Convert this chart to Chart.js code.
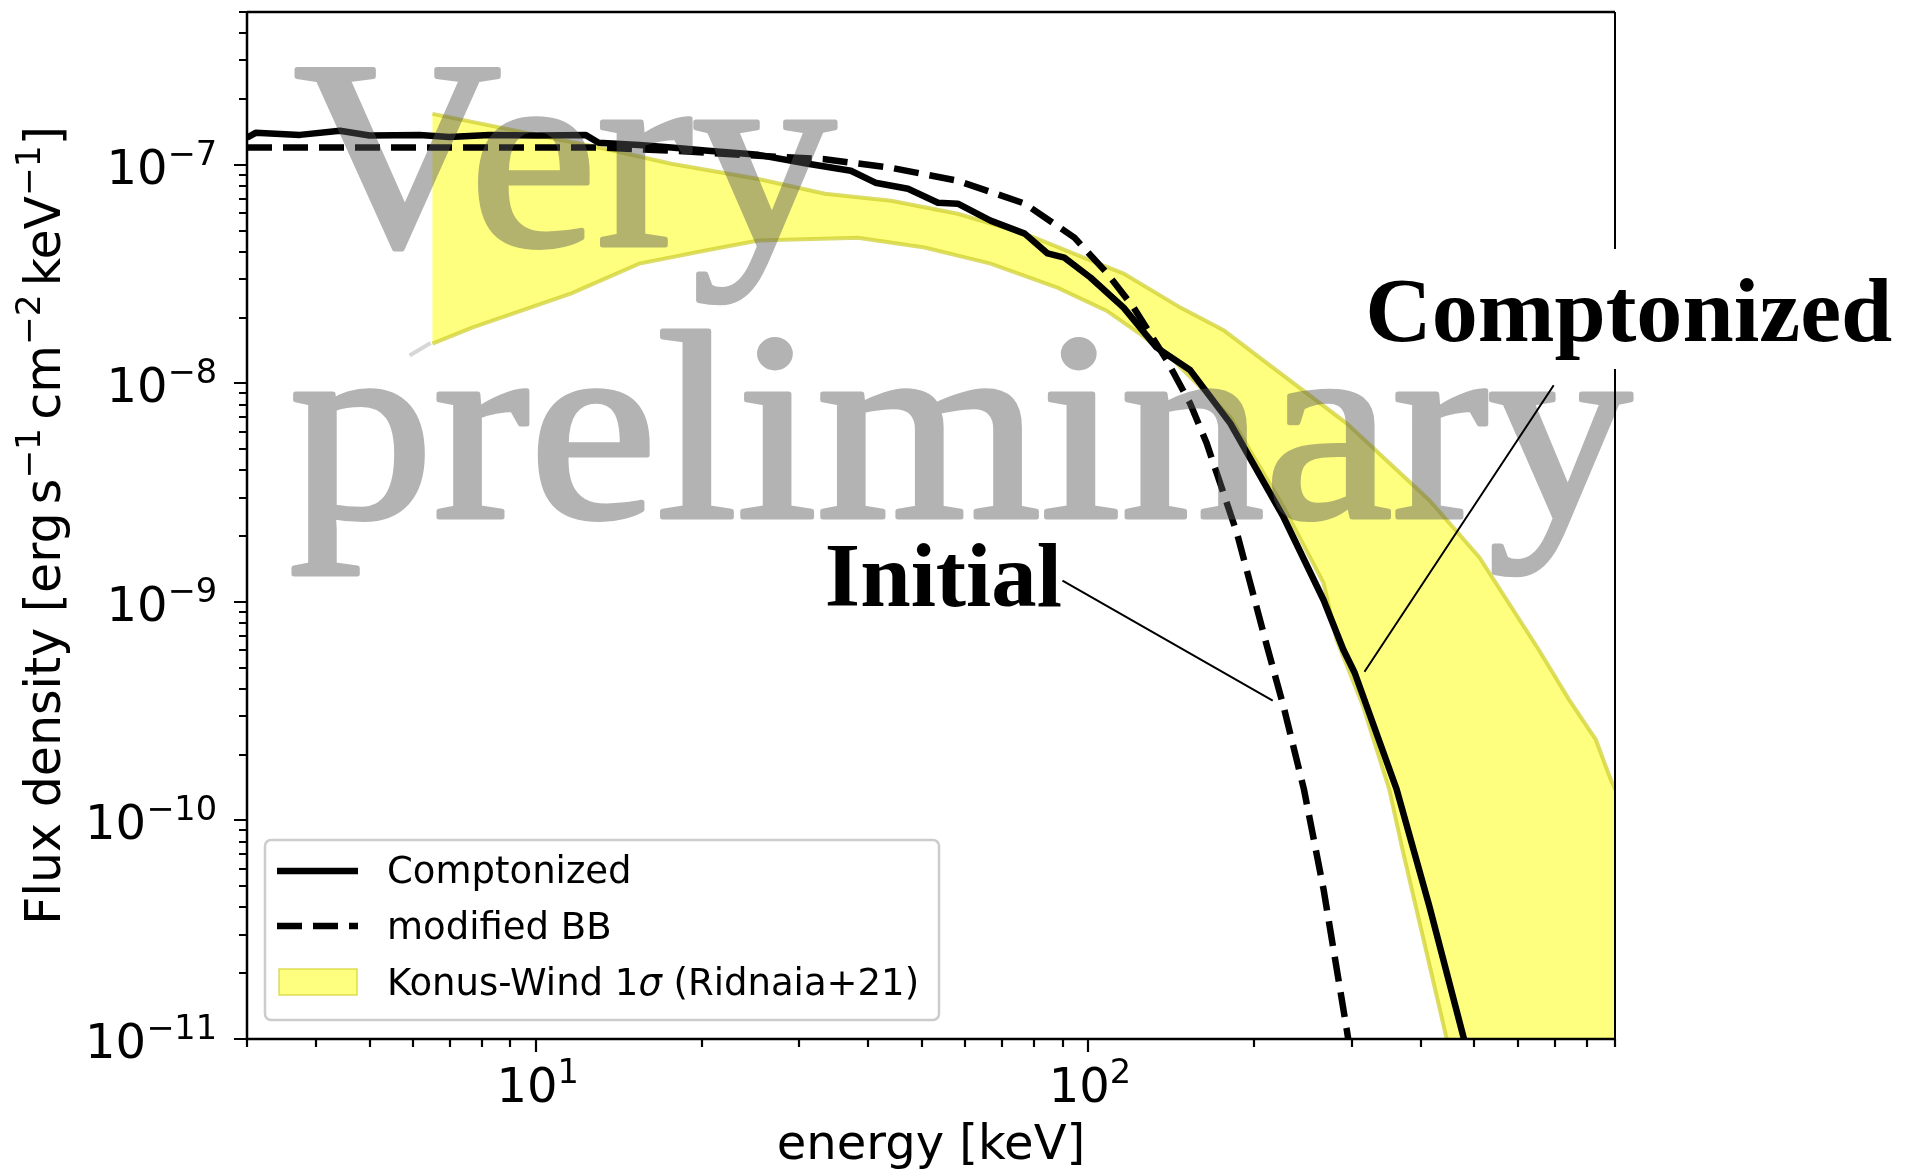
<!DOCTYPE html>
<html>
<head>
<meta charset="utf-8">
<script src="https://cdn.jsdelivr.net/npm/chart.js@4.4.0/dist/chart.umd.min.js"></script>
<style>
html, body { margin: 0; padding: 0; background: #fff; overflow: hidden; }
#wrap { width: 1905px; height: 1173px; }
</style>
</head>
<body>
<div id="wrap"><canvas id="graph1" width="1905" height="1173"></canvas></div>
<script>
// energies in keV, flux density in erg s^-1 cm^-2 keV^-1
const comptE = [3.0, 3.11, 3.74, 4.42, 5.0, 6.16, 6.97, 8.24, 10.1, 12.3, 13.0, 15.4, 17.6, 20.5, 25.3, 31.1, 37.2, 41.2, 47.2, 53.5, 58.1, 66.6, 76.8, 84.5, 90.6, 101, 116, 133, 153, 181, 226, 267, 290, 304, 362, 415, 478, 520];
const comptF = [1.33e-7, 1.40e-7, 1.37e-7, 1.43e-7, 1.36e-7, 1.37e-7, 1.34e-7, 1.37e-7, 1.36e-7, 1.37e-7, 1.26e-7, 1.23e-7, 1.20e-7, 1.16e-7, 1.11e-7, 1.01e-7, 9.39e-8, 8.28e-8, 7.77e-8, 6.70e-8, 6.64e-8, 5.55e-8, 4.84e-8, 3.93e-8, 3.76e-8, 3.05e-8, 2.22e-8, 1.46e-8, 1.15e-8, 6.56e-9, 2.44e-9, 1.02e-9, 6.04e-10, 4.74e-10, 1.39e-10, 4.05e-11, 1.03e-11, 5e-12];

const bbE = [3.0, 13.0, 17.6, 25.3, 33.4, 44.0, 58.1, 76.8, 94.5, 108.4, 121, 139, 153, 164, 186, 211, 226, 246, 267, 294, 300];
const bbF = [1.2e-7, 1.2e-7, 1.16e-7, 1.10e-7, 1.06e-7, 9.68e-8, 8.45e-8, 6.64e-8, 4.64e-8, 3.18e-8, 2.22e-8, 1.27e-8, 8.11e-9, 5.32e-9, 2.07e-9, 6.24e-10, 3.32e-10, 1.39e-10, 4.84e-11, 1.11e-11, 8e-12];

const konusHiE = [6.5, 13.4, 17.6, 25.3, 33.4, 44.0, 58.1, 76.8, 101, 116, 147, 176, 208, 294, 415, 511, 655, 743, 831, 884, 1000];
const konusHi = [1.71e-7, 1.18e-7, 1.01e-7, 8.6e-8, 7.37e-8, 6.85e-8, 5.97e-8, 4.84e-8, 3.65e-8, 3.18e-8, 2.22e-8, 1.75e-8, 1.27e-8, 6.56e-9, 2.92e-9, 1.60e-9, 6.04e-10, 3.57e-10, 2.34e-10, 1.54e-10, 8e-11];
const konusLoE = [6.5, 7.67, 11.6, 15.4, 20.3, 25.3, 38.3, 50.6, 66.6, 88.0, 108, 124, 143, 181, 226, 267, 282, 315, 351, 372, 405, 445, 480, 1000];
const konusLo = [1.52e-8, 1.80e-8, 2.58e-8, 3.53e-8, 4.05e-8, 4.50e-8, 4.64e-8, 4.18e-8, 3.53e-8, 2.74e-8, 2.15e-8, 1.69e-8, 1.27e-8, 7.00e-9, 2.72e-9, 1.22e-9, 6.70e-10, 3.32e-10, 1.39e-10, 7.15e-11, 2.86e-11, 1.03e-11, 5e-12, 1e-13];

const xMajor = [10, 100];
const xMajorExp = ['1', '2'];
const yMajor = [1e-11, 1e-10, 1e-9, 1e-8, 1e-7];
const yMajorExp = ['\u221211', '\u221210', '\u22129', '\u22128', '\u22127'];

const xRange = [3, 900];
const yRange = [1e-11, 5e-7];

const SANS = '"DejaVu Sans"';
const SERIF = '"Liberation Serif"';

function pts(xs, ys) {
  return xs.map((e, i) => ({x: e, y: ys[i]}));
}

// closed outline of the band: upper edge out, lower edge back
const bandOutline = pts(konusHiE, konusHi).concat(pts(konusLoE, konusLo).reverse());

// text with superscripts / italic pieces, mathtext style
function richWidth(ctx, parts, size) {
  let w = 0;
  for (const p of parts) {
    if (p.gap) { w += p.gap * size; continue; }
    const s = p.sup ? size * 0.7 : size;
    ctx.font = (p.it ? 'italic ' : '') + s + 'px ' + SANS;
    w += ctx.measureText(p.t).width;
  }
  return w;
}
function drawRich(ctx, parts, x, y, size, align) {
  const w = richWidth(ctx, parts, size);
  let cx = align === 'right' ? x - w : align === 'center' ? x - w / 2 : x;
  ctx.textAlign = 'left';
  ctx.textBaseline = 'alphabetic';
  for (const p of parts) {
    if (p.gap) { cx += p.gap * size; continue; }
    const s = p.sup ? size * 0.7 : size;
    ctx.font = (p.it ? 'italic ' : '') + s + 'px ' + SANS;
    ctx.fillText(p.t, cx, p.sup ? y - size * 0.4 : y);
    cx += ctx.measureText(p.t).width;
  }
}
// serif text squeezed so its ink spans a given width
function fitText(ctx, text, left, base, width, stroke) {
  const m = ctx.measureText(text);
  const ink = m.actualBoundingBoxLeft + m.actualBoundingBoxRight;
  ctx.save();
  ctx.translate(left, base);
  ctx.scale(width / ink, 1);
  ctx.textAlign = 'left';
  ctx.textBaseline = 'alphabetic';
  ctx.fillText(text, m.actualBoundingBoxLeft, 0);
  if (stroke) ctx.strokeText(text, m.actualBoundingBoxLeft, 0);
  ctx.restore();
}

const overlay = {
  id: 'overlay',
  afterDatasetsDraw(chart) {
    const ctx = chart.ctx;
    const a = chart.chartArea;
    const x = chart.scales.x, y = chart.scales.y;
    ctx.save();

    // faint grey stub left of the band corner
    ctx.strokeStyle = 'rgba(205,205,205,0.8)';
    ctx.lineWidth = 4;
    ctx.beginPath();
    ctx.moveTo(x.getPixelForValue(6.45), y.getPixelForValue(1.53e-8));
    ctx.lineTo(x.getPixelForValue(5.91), y.getPixelForValue(1.34e-8));
    ctx.stroke();

    // watermark, drawn opaque off screen then blended
    const off = document.createElement('canvas');
    off.width = chart.width; off.height = chart.height;
    const o = off.getContext('2d');
    o.fillStyle = 'rgb(88,88,88)';
    o.strokeStyle = 'rgb(88,88,88)';
    o.lineWidth = 5;
    o.lineJoin = 'round';
    o.font = '268px ' + SERIF;
    fitText(o, 'Very', 294, 245, 542, true);
    fitText(o, 'preliminary', 294, 517, 1338, true);
    ctx.globalAlpha = 0.45;
    ctx.drawImage(off, 0, 0);
    ctx.globalAlpha = 1;

    // annotations
    ctx.strokeStyle = '#000';
    ctx.lineWidth = 2;
    ctx.beginPath();
    ctx.moveTo(x.getPixelForValue(697), y.getPixelForValue(9.8e-9));
    ctx.lineTo(x.getPixelForValue(316.7), y.getPixelForValue(4.79e-10));
    ctx.moveTo(x.getPixelForValue(89.9), y.getPixelForValue(1.25e-9));
    ctx.lineTo(x.getPixelForValue(216), y.getPixelForValue(3.53e-10));
    ctx.stroke();

    const cxL = x.getPixelForValue(323), cyB = y.getPixelForValue(1.56e-8);
    ctx.fillStyle = '#fff';
    ctx.fillRect(cxL - 8, cyB - 92, 1905 - cxL + 8, 120);
    ctx.fillStyle = '#000';
    ctx.font = 'bold 90px ' + SERIF;
    fitText(ctx, 'Comptonized', cxL, cyB, 523);
    fitText(ctx, 'Initial', x.getPixelForValue(33.8), y.getPixelForValue(9.59e-10), 233);

    // spines
    ctx.strokeStyle = '#000';
    ctx.lineWidth = 2.5;
    ctx.beginPath();
    ctx.moveTo(a.left, a.top); ctx.lineTo(a.right, a.top);
    ctx.moveTo(a.left, a.top); ctx.lineTo(a.left, a.bottom);
    ctx.moveTo(a.left - 1.25, a.bottom); ctx.lineTo(a.right + 1, a.bottom);
    ctx.stroke();
    ctx.lineWidth = 2;
    ctx.beginPath();
    ctx.moveTo(a.right, a.top); ctx.lineTo(a.right, cyB - 92);
    ctx.moveTo(a.right, cyB + 28); ctx.lineTo(a.right, a.bottom);
    ctx.stroke();

    // ticks
    ctx.lineWidth = 2.2;
    ctx.beginPath();
    for (let k = -12; k <= -6; k++) {
      for (let m = 1; m <= 9; m++) {
        const v = m * Math.pow(10, k);
        if (v < yRange[0] * 0.999 || v > yRange[1] * 1.001) continue;
        const py = Math.round(y.getPixelForValue(v));
        const len = m === 1 ? 13 : 8;
        ctx.moveTo(a.left, py); ctx.lineTo(a.left - len, py);
      }
    }
    for (let k = 0; k <= 3; k++) {
      for (let m = 1; m <= 9; m++) {
        const v = m * Math.pow(10, k);
        if (v < xRange[0] * 0.999 || v > xRange[1] * 1.001) continue;
        const px = Math.round(x.getPixelForValue(v));
        const len = m === 1 ? 13 : 8;
        ctx.moveTo(px, a.bottom); ctx.lineTo(px, a.bottom + len);
      }
    }
    ctx.stroke();

    // tick labels
    ctx.fillStyle = '#000';
    yMajor.forEach((v, i) => {
      const py = y.getPixelForValue(v);
      drawRich(ctx, [{t: '10'}, {t: yMajorExp[i], sup: true}], 217, py + 19, 48, 'right');
    });
    xMajor.forEach((v, i) => {
      const px = x.getPixelForValue(v);
      drawRich(ctx, [{t: '10'}, {t: xMajorExp[i], sup: true}], px + 2, 1102, 48, 'center');
    });

    // axis labels
    drawRich(ctx, [{t: 'energy [keV]'}], (a.left + a.right) / 2, 1159, 48, 'center');
    ctx.save();
    ctx.translate(60, (a.top + a.bottom) / 2);
    ctx.rotate(-Math.PI / 2);
    drawRich(ctx, [
      {t: 'Flux density [erg'}, {gap: 0.17}, {t: 's'}, {t: '\u22121', sup: true}, {gap: 0.17},
      {t: 'cm'}, {t: '\u22122', sup: true}, {gap: 0.17},
      {t: 'keV'}, {t: '\u22121', sup: true}, {t: ']'}
    ], 0, 0, 49, 'center');
    ctx.restore();

    // legend
    const L = {x: 265, y: 840, w: 674, h: 180};
    ctx.fillStyle = 'rgba(255,255,255,0.85)';
    ctx.strokeStyle = 'rgba(204,204,204,1)';
    ctx.lineWidth = 2.5;
    ctx.beginPath();
    ctx.roundRect(L.x, L.y, L.w, L.h, 6);
    ctx.fill();
    ctx.stroke();
    const ds = chart.data.datasets;
    const rows = [871, 926, 982];
    ds.forEach((d, i) => {
      const ry = rows[i];
      if (d.fill) {
        ctx.fillStyle = d.backgroundColor;
        ctx.fillRect(279, ry - 13, 78, 26);
        ctx.strokeStyle = d.borderColor;
        ctx.lineWidth = 1.5;
        ctx.strokeRect(279, ry - 13, 78, 26);
      } else {
        ctx.strokeStyle = d.borderColor;
        ctx.lineWidth = d.borderWidth;
        ctx.setLineDash(d.borderDash || []);
        ctx.beginPath();
        ctx.moveTo(277, ry); ctx.lineTo(358, ry);
        ctx.stroke();
        ctx.setLineDash([]);
      }
    });
    ctx.fillStyle = '#000';
    drawRich(ctx, [{t: ds[0].label}], 387, 883, 37, 'left');
    drawRich(ctx, [{t: ds[1].label}], 387, 939, 37, 'left');
    drawRich(ctx, [{t: 'Konus-Wind 1'}, {t: '\u03c3', it: true}, {t: ' (Ridnaia+21)'}], 387, 995, 37, 'left');

    ctx.restore();
  }
};

new Chart('graph1', {
  type: 'line',
  data: {
    datasets: [
      {
        label: 'Comptonized',
        data: pts(comptE, comptF),
        borderColor: '#000',
        borderWidth: 6.5,
        borderJoinStyle: 'round',
        pointRadius: 0,
        fill: false,
        clip: 0,
        order: 1
      },
      {
        label: 'modified BB',
        data: pts(bbE, bbF),
        borderColor: '#000',
        borderWidth: 6.5,
        borderDash: [25, 11],
        pointRadius: 0,
        fill: false,
        clip: 0,
        order: 2
      },
      {
        label: 'Konus-Wind 1\u03c3 (Ridnaia+21)',
        data: bandOutline,
        borderColor: 'rgba(205,205,40,0.7)',
        backgroundColor: 'rgba(255,255,0,0.5)',
        borderWidth: 4,
        pointRadius: 0,
        fill: 'shape',
        clip: 0,
        order: 3
      }
    ]
  },
  options: {
    responsive: false,
    animation: false,
    events: [],
    layout: { padding: { left: 247, right: 290, top: 12, bottom: 134 } },
    scales: {
      x: { type: 'logarithmic', min: xRange[0], max: xRange[1], display: false },
      y: { type: 'logarithmic', min: yRange[0], max: yRange[1], display: false }
    },
    plugins: {
      legend: { display: false },
      tooltip: { enabled: false }
    }
  },
  plugins: [overlay]
});
</script>
</body>
</html>
